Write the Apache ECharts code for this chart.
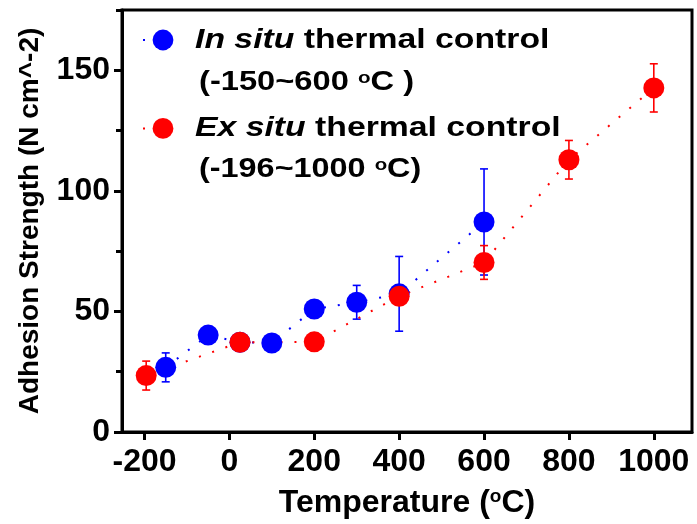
<!DOCTYPE html>
<html>
<head>
<meta charset="utf-8">
<script src="https://cdn.jsdelivr.net/npm/echarts@6/dist/echarts.min.js"></script>
<style>
html,body{margin:0;padding:0;background:#fff;}
#c{width:697px;height:524px;}
</style>
</head>
<body>
<div id="c"></div>
<script>
// ---- data ----
const inSituX   = [-150, -50, 25, 100, 200, 300, 400, 600];
const inSituY   = [26.8, 40.2, 37.2, 36.9, 51.0, 53.8, 57.3, 87.1];
const inSituErr = [6, 0, 0, 0, 0, 7, 15.5, 22];

const exSituX   = [-196, 25, 200, 400, 600, 800, 1000];
const exSituY   = [23.4, 37.2, 37.4, 56.3, 70.3, 112.9, 142.7];
const exSituErr = [6, 0, 0, 0, 7, 8, 10];

const xTicks = [-200, 0, 200, 400, 600, 800, 1000];
const yTicks = [0, 50, 100, 150];
const yMinorTicks = [25, 75, 125, 175];

const seriesNames = ['In situ thermal control', 'Ex situ thermal control'];
const italicParts = ['In situ', 'Ex situ'];
const plainParts = [' thermal control', ' thermal control'];
const rangeLabels = ['(-150~600 ', '(-196~1000 '];
const rangeTails = ['C )', 'C)'];

// ---- build ----
const FONT = 'Liberation Sans, Arial, sans-serif';
const BLUE = '#0000ff', RED = '#ff0000';

function pts(xs, ys) { return xs.map((x, i) => [x, ys[i]]); }
function errData(xs, ys, es) {
  const out = [];
  xs.forEach((x, i) => { if (es[i] > 0) out.push([x, ys[i] - es[i], ys[i] + es[i]]); });
  return out;
}
function errSeries(data, color) {
  return {
    type: 'custom', data: data, silent: true,
    renderItem: function (params, api) {
      const x = api.value(0), lo = api.value(1), hi = api.value(2);
      const p1 = api.coord([x, hi]), p2 = api.coord([x, lo]);
      const hw = 4;
      const st = { stroke: color, lineWidth: 1.6 };
      return { type: 'group', children: [
        { type: 'line', shape: { x1: p1[0], y1: p1[1], x2: p2[0], y2: p2[1] }, style: st },
        { type: 'line', shape: { x1: p1[0] - hw, y1: p1[1], x2: p1[0] + hw, y2: p1[1] }, style: st },
        { type: 'line', shape: { x1: p2[0] - hw, y1: p2[1], x2: p2[0] + hw, y2: p2[1] }, style: st }
      ]};
    }
  };
}
function lineSeries(name, data, color) {
  return {
    type: 'line', name: name, data: data,
    symbol: 'circle', symbolSize: 21,
    itemStyle: { color: color },
    lineStyle: { color: color, width: 2, type: [2, 12] },
    emphasis: { disabled: true }
  };
}

const richText = {
  i: { fontFamily: FONT, fontWeight: 'bold', fontStyle: 'italic', fontSize: 27, color: '#000' },
  b: { fontFamily: FONT, fontWeight: 'bold', fontSize: 27, color: '#000' },
  s: { fontFamily: FONT, fontWeight: 'bold', fontSize: 17, color: '#000', verticalAlign: 'top' }
};
function legendText(str, x, y, sx) {
  return { type: 'text', x: x, y: y, scaleX: sx, silent: true,
    style: { text: str, rich: richText, verticalAlign: 'middle', align: 'left' } };
}

const chart = echarts.init(document.getElementById('c'), null, { renderer: 'canvas' });
chart.setOption({
  animation: false,
  backgroundColor: '#fff',
  grid: { left: 122, top: 10, width: 570, height: 422, show: true, borderColor: '#000', borderWidth: 3, backgroundColor: 'transparent' },
  legend: {
    orient: 'vertical', left: 142, top: 27, padding: 0, itemWidth: 40, itemHeight: 26, itemGap: 65,
    data: seriesNames,
    formatter: function () { return ''; },
    textStyle: { fontSize: 12 }
  },
  graphic: [
    legendText('{i|' + italicParts[0] + '}{b|' + plainParts[0] + '}', 195, 41, 1.25),
    legendText('{b|' + rangeLabels[0] + '}{s|o}{b|' + rangeTails[0] + '}', 199, 83, 1.21),
    legendText('{i|' + italicParts[1] + '}{b|' + plainParts[1] + '}', 195, 129, 1.25),
    legendText('{b|' + rangeLabels[1] + '}{s|o}{b|' + rangeTails[1] + '}', 199, 170, 1.2)
  ],
  xAxis: {
    type: 'value', min: -253, max: 1090,
    name: '{b|Temperature (}{s|o}{b|C)}', nameLocation: 'middle', nameGap: 55,
    nameTextStyle: { rich: {
      b: { fontFamily: FONT, fontWeight: 'bold', fontSize: 32, color: '#000' },
      s: { fontFamily: FONT, fontWeight: 'bold', fontSize: 19, color: '#000', verticalAlign: 'top' } } },
    axisLine: { onZero: false, lineStyle: { color: '#000', width: 3 } },
    axisTick: { customValues: xTicks, length: 8, lineStyle: { color: '#000', width: 3 } },
    axisLabel: { customValues: xTicks, margin: 14, fontFamily: FONT, fontWeight: 'bold', fontSize: 32, color: '#000',
      formatter: function (v) { return String(v); } },
    splitLine: { show: false }
  },
  yAxis: [{
    type: 'value', min: 0, max: 175,
    name: 'Adhesion Strength (N cm^-2)', nameLocation: 'middle', nameGap: 78,
    nameTextStyle: { fontFamily: FONT, fontWeight: 'bold', fontSize: 28, color: '#000' },
    axisLine: { onZero: false, lineStyle: { color: '#000', width: 3 } },
    axisTick: { customValues: yTicks, length: 8, lineStyle: { color: '#000', width: 3 } },
    axisLabel: { customValues: yTicks, margin: 12, fontFamily: FONT, fontWeight: 'bold', fontSize: 32, color: '#000' },
    splitLine: { show: false }
  }, {
    type: 'value', min: 0, max: 175, position: 'left',
    axisLine: { show: false, onZero: false },
    axisTick: { customValues: yMinorTicks, length: 6, lineStyle: { color: '#000', width: 3 } },
    axisLabel: { show: false },
    splitLine: { show: false }
  }],
  series: [
    errSeries(errData(inSituX, inSituY, inSituErr), BLUE),
    lineSeries(seriesNames[0], pts(inSituX, inSituY), BLUE),
    errSeries(errData(exSituX, exSituY, exSituErr), RED),
    lineSeries(seriesNames[1], pts(exSituX, exSituY), RED)
  ]
});
</script>
</body>
</html>
